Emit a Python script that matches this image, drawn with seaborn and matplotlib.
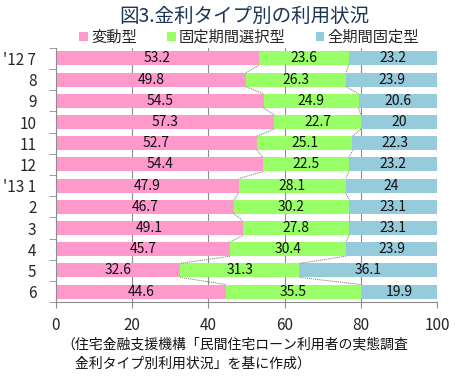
"""
Stacked horizontal bar chart: share of mortgage interest-rate types by month.
"""

import numpy as np
import pandas as pd
import matplotlib
matplotlib.use("Agg")
import matplotlib.pyplot as plt
import seaborn as sns

# Data
months = ["'12 7", "8", "9", "10", "11", "12", "'13 1", "2", "3", "4", "5", "6"]
variable = [53.2, 49.8, 54.5, 57.3, 52.7, 54.4, 47.9, 46.7, 49.1, 45.7, 32.6, 44.6]
fixed_period = [23.6, 26.3, 24.9, 22.7, 25.1, 22.5, 28.1, 30.2, 27.8, 30.4, 31.3, 35.5]
fixed_full = [23.2, 23.9, 20.6, 20, 22.3, 23.2, 24, 23.1, 23.1, 23.9, 36.1, 19.9]
series_names = ["変動型", "固定期間選択型", "全期間固定型"]
colors = ["#FF99CC", "#99FF66", "#96CBDC"]

sns.set_style("white")
plt.rcParams['font.family'] = ['Noto Sans CJK JP', 'DejaVu Sans']

df = pd.DataFrame({
    "month": months,
    "v": variable,
    "p": fixed_period,
    "f": fixed_full,
})
df["c1"] = df["v"]
df["c2"] = df["v"] + df["p"]
df["c3"] = df["c2"] + df["f"]

fig = plt.figure(figsize=(4.7, 3.83), dpi=100)
ax = fig.add_axes([0.119, 0.211, 0.811, 0.664])

bar_w = 0.66
# draw cumulative totals back to front so they look stacked
for col, color, name in zip(["c3", "c2", "c1"], colors[::-1], series_names[::-1]):
    sns.barplot(data=df, x=col, y="month", order=months, color=color,
                width=bar_w, ax=ax, label=name, zorder=2, linewidth=0,
                saturation=1)

# series lines between adjacent bars (Excel style)
for col in ["c1", "c2"]:
    vals = df[col].values
    for i in range(len(vals) - 1):
        ax.plot([vals[i], vals[i + 1]], [i + bar_w / 2, i + 1 - bar_w / 2],
                color="#707070", lw=0.7, ls=(0, (1, 1)), zorder=3)

# value labels centered in each segment
starts = [np.zeros(len(df)), df["c1"].values, df["c2"].values]
for vals, left in zip([variable, fixed_period, fixed_full], starts):
    for i, v in enumerate(vals):
        ax.text(left[i] + v / 2, i, f"{v:g}", ha="center", va="center",
                fontsize=10, color="#111111", zorder=4)

ax.set_xlim(0, 100)
ax.set_ylim(len(months) - 0.5, -0.5)
ax.set_xticks([0, 20, 40, 60, 80, 100])
ax.set_xlabel("")
ax.set_ylabel("")
ax.xaxis.grid(True, color="#8C8C8C", lw=0.8, zorder=0)
ax.set_axisbelow(True)

ax.tick_params(axis="x", labelsize=11, length=4, direction="out",
               color="#8C8C8C", pad=7, bottom=True)
ax.tick_params(axis="y", which="major", labelsize=11, length=0, pad=14)
ax.set_yticks(np.arange(len(months) + 1) - 0.5, minor=True)
ax.tick_params(axis="y", which="minor", length=5, direction="out",
               color="#8C8C8C", left=True)

for side in ["top", "right"]:
    ax.spines[side].set_visible(False)
for side in ["left", "bottom"]:
    ax.spines[side].set_color("#8C8C8C")
    ax.spines[side].set_linewidth(0.8)

# legend in the reference order
handles, labels = ax.get_legend_handles_labels()
order = [labels.index(n) for n in series_names]
ax.legend([handles[k] for k in order], series_names, loc="center",
          bbox_to_anchor=(0.53, 0.903), bbox_transform=fig.transFigure,
          ncol=3, frameon=False, fontsize=11, handlelength=0.55,
          handleheight=0.55, handletextpad=0.2, columnspacing=2.0)

fig.text(0.52, 0.958, "図3.金利タイプ別の利用状況", ha="center", va="center",
         fontsize=14, color="#1B3556")
fig.text(0.13, 0.118,
         "（住宅金融支援機構「民間住宅ローン利用者の実態調査\n"
         "　金利タイプ別利用状況」を基に作成）",
         ha="left", va="top", fontsize=10, linespacing=1.45,
         color="#111111")

fig.savefig("out.png", dpi=100)
plt.close(fig)
